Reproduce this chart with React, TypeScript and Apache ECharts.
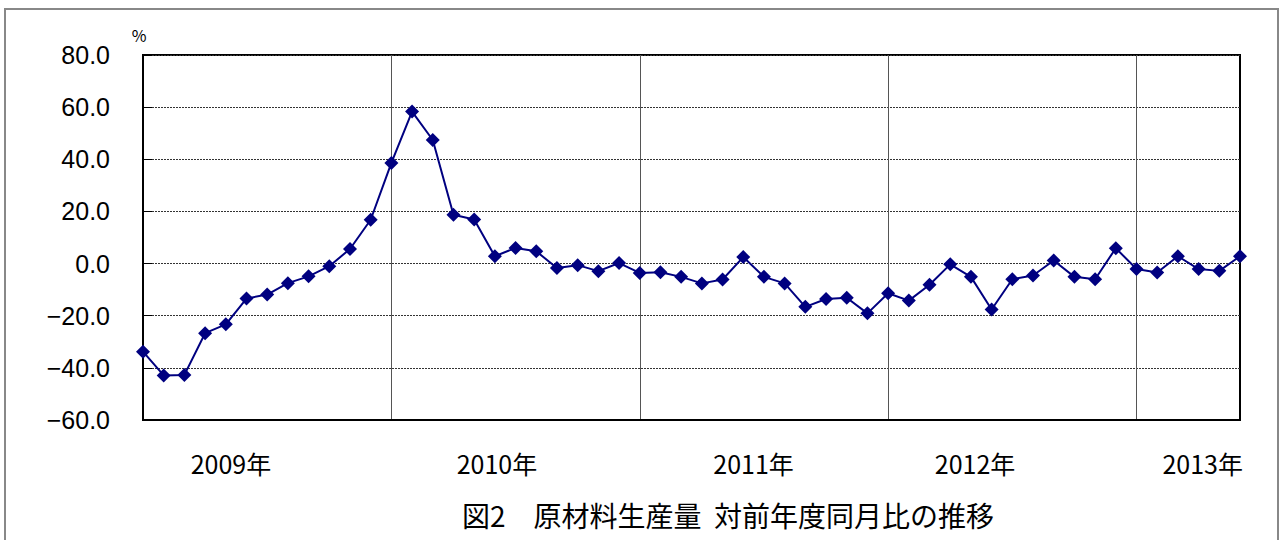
import React, { useEffect, useRef } from "react";
import * as echarts from "echarts";

// month index from start of series (12 points per year)
const months: string[] = Array.from({ length: 54 }, (_, i) => String(i));
const values: number[] = [
  -33.8, -42.9, -42.7, -26.7, -23.3, -13.4, -11.9, -7.5, -4.9, -1.0, 5.6, 16.8,
  38.6, 58.3, 47.4, 18.7, 16.9, 2.8, 6.0, 4.7, -1.7, -0.6, -2.9, 0.2,
  -3.6, -3.3, -5.1, -7.6, -6.1, 2.5, -5.1, -7.6, -16.6, -13.6, -13.1, -19.1,
  -11.4, -14.2, -8.1, -0.3, -5.1, -17.6, -6.0, -4.6, 1.2, -5.1, -6.0, 5.9,
  -2.1, -3.4, 2.8, -2.1, -2.8, 2.8,
];
const yearLabels: string[] = ["2009年", "2010年", "2011年", "2012年", "2013年"];
const yearLabelPos: number[] = [4.25, 17.1, 29.5, 40.2, 51.2];
const title = "図2　原材料生産量  対前年度同月比の推移";

export default function App() {
  const ref = useRef<HTMLDivElement>(null);
  useEffect(() => {
    const chart = echarts.init(ref.current!, null, { renderer: "svg" });
    chart.setOption({
      animation: false,
      backgroundColor: "#fff",
      grid: { left: 143, top: 55, right: 42, bottom: 120, show: true, borderColor: "#000", borderWidth: 2 },
      xAxis: [
        {
          type: "category",
          data: months,
          boundaryGap: false,
          axisLine: { show: true, onZero: false, lineStyle: { color: "#000", width: 2 } },
          axisTick: { show: false },
          axisLabel: { show: false },
          splitLine: {
            show: true,
            interval: (idx: number) => idx % 12 === 0 && idx > 0,
            lineStyle: { color: "#555", width: 1, type: "solid" },
          },
        },
        {
          type: "value",
          min: 0,
          max: months.length - 1,
          position: "bottom",
          axisLine: { show: false, onZero: false },
          axisTick: { show: false },
          splitLine: { show: false },
          axisLabel: {
            customValues: yearLabelPos,
            margin: 30,
            fontSize: 25,
            color: "#000",
            fontFamily: "Noto Sans CJK JP",
            formatter: (v: number) => {
              const k = yearLabelPos.findIndex((p) => Math.abs(p - v) < 1e-6);
              return k >= 0 ? yearLabels[k] : "";
            },
          },
        },
      ],
      yAxis: {
        type: "value",
        min: -60,
        max: 80,
        interval: 20,
        name: "%",
        nameLocation: "end",
        nameGap: 12,
        nameTextStyle: { fontSize: 16, color: "#000", fontFamily: "Noto Sans CJK JP", padding: [0, 8, 0, 0] },
        axisLine: { show: true, lineStyle: { color: "#000", width: 2 } },
        axisTick: { show: true, inside: true, length: 9, lineStyle: { color: "#000" } },
        axisLabel: {
          margin: 33,
          fontSize: 25,
          color: "#000",
          fontFamily: "Liberation Sans",
          formatter: (v: number) => (v < 0 ? "\u2212" + Math.abs(v).toFixed(1) : v.toFixed(1)),
        },
        splitLine: { show: true, lineStyle: { color: "#333", width: 1, type: [2, 1] } },
      },
      series: [
        {
          type: "line",
          data: values,
          xAxisIndex: 0,
          symbol: "diamond",
          symbolSize: 14,
          showSymbol: true,
          showAllSymbol: true,
          lineStyle: { color: "#000080", width: 2 },
          itemStyle: { color: "#000080" },
        },
      ],
      graphic: [
        {
          type: "rect",
          shape: { x: 5, y: 9, width: 1273, height: 580 },
          style: { fill: "none", stroke: "#888", lineWidth: 2 },
          silent: true,
        },
        {
          type: "text",
          x: 728,
          y: 515,
          style: {
            text: title,
            fontSize: 28,
            fontFamily: "Noto Sans CJK JP",
            fill: "#000",
            textAlign: "center",
            textVerticalAlign: "middle",
          },
        },
      ],
    });
    return () => chart.dispose();
  }, []);
  return <div ref={ref} style={{ position: "fixed", left: 0, top: 0, width: 1282, height: 540 }} />;
}
